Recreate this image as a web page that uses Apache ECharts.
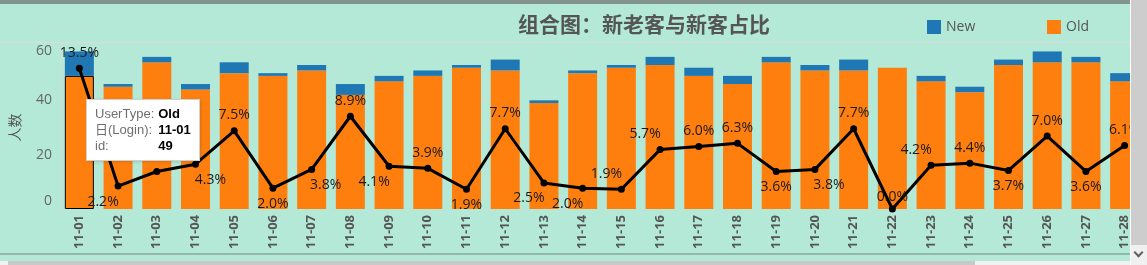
<!DOCTYPE html>
<html><head><meta charset="utf-8">
<script src="https://cdn.jsdelivr.net/npm/echarts@6/dist/echarts.min.js"></script>
<style>
html,body{margin:0;padding:0;width:1147px;height:265px;overflow:hidden;background:#b3e9d6;}
#chart{position:absolute;left:0;top:0;width:1147px;height:265px;}
.deco{position:absolute;}
</style></head><body>
<div id="chart"></div>
<div class="deco" style="left:0;top:0;width:1130px;height:4px;background:#83938d;"></div>
<div class="deco" style="left:0;top:42px;width:1130px;height:1px;background:#d8dcda;"></div>
<div class="deco" style="left:0;top:253px;width:1130px;height:2px;background:#95b9a9;"></div>
<div class="deco" style="left:0;top:261px;width:1130px;height:4px;background:#f0f0f0;"></div>
<div class="deco" style="left:8px;top:261px;width:967px;height:4px;background:#c9c9c9;"></div>
<div class="deco" style="left:1130px;top:0;width:1px;height:265px;background:#ffffff;"></div>
<div class="deco" style="left:1131px;top:0;width:16px;height:245px;background:#cdcdcd;"></div>
<div class="deco" style="left:1131px;top:245px;width:16px;height:20px;background:#f0f0f0;"></div>
<div class="deco" style="left:1135px;top:249px;width:5px;height:5px;border-right:2px solid #606060;border-bottom:2px solid #606060;transform:rotate(45deg);"></div>
<script>
// ---- data ----
const categories = ['11-01','11-02','11-03','11-04','11-05','11-06','11-07','11-08','11-09','11-10',
  '11-11','11-12','11-13','11-14','11-15','11-16','11-17','11-18','11-19','11-20',
  '11-21','11-22','11-23','11-24','11-25','11-26','11-27','11-28'];
const oldUsers = [49,45,54,44,50,49,51,42,47,49,52,51,39,50,52,53,49,46,54,51,51,52,47,43,53,54,54,47];
const newUsers = [9,1,2,2,4,1,2,4,2,2,1,4,1,1,1,3,3,3,2,2,4,0,2,2,2,4,2,3];
const newRatio = [13.5,2.2,3.6,4.3,7.5,2.0,3.8,8.9,4.1,3.9,1.9,7.7,2.5,2.0,1.9,5.7,6.0,6.3,3.6,3.8,7.7,0.0,4.2,4.4,3.7,7.0,3.6,6.1];
const yTicks = [0,20,40,60];
// label placement (style only)
const labelSide = ['top','bottom','top','bottom','top','bottom','bottom','top','bottom','top',
  'bottom','top','bottom','bottom','top','top','top','top','bottom','bottom',
  'top','top','top','top','bottom','top','bottom','top'];
const labelShift = [0,-15,-15,15,0,0,14,0,-15,0,0,0,-15,-15,-15,-15,0,0,0,14,0,0,-15,0,0,0,0,0];
const selectedIndex = 0;

const FONT = '"Open Sans", "Noto Sans CJK SC", sans-serif';
const chart = echarts.init(document.getElementById('chart'), null, {renderer:'canvas'});

const option = {
  animation: false,
  backgroundColor: 'transparent',
  title: {
    text: '组合图：新老客与新客占比',
    left: 513, top: 9,
    textStyle: {fontFamily: '"Noto Sans CJK SC", sans-serif', fontSize: 21, fontWeight: 'bold', color: '#555555'}
  },
  legend: [
    {data: ['New'], left: 927, top: 20, padding: 0, itemWidth: 14, itemHeight: 14, icon: 'rect', itemGap: 5,
     selectedMode: false, textStyle: {fontFamily: FONT, fontSize: 14, color: '#555555', padding: [0,0,0,0]}},
    {data: ['Old'], left: 1047, top: 20, padding: 0, itemWidth: 14, itemHeight: 14, icon: 'rect', itemGap: 5,
     selectedMode: false, textStyle: {fontFamily: FONT, fontSize: 14, color: '#555555'}}
  ],
  tooltip: {
    trigger: 'item', triggerOn: 'none', alwaysShowContent: true, transitionDuration: 0,
    position: [86, 99], padding: [6, 8], backgroundColor: '#ffffff', borderColor: '#d0d0d0', borderWidth: 1,
    extraCssText: 'box-shadow:1px 1px 3px rgba(0,0,0,0.15);border-radius:0;',
    formatter: function (p) {
      const i = p.dataIndex;
      const k = 'color:#6f6f6f;padding:0 4px 0 0;font-weight:normal;';
      const v = 'color:#000;font-weight:bold;padding:0;';
      return '<table style="border-spacing:0;font-family:\'Liberation Sans\',Arial,\'Noto Sans CJK SC\',sans-serif;font-size:13px;line-height:16px;">' +
        '<tr><td style="' + k + '">UserType:</td><td style="' + v + '">' + p.seriesName + '</td></tr>' +
        '<tr><td style="' + k + '">日(Login):</td><td style="' + v + '">' + categories[i] + '</td></tr>' +
        '<tr><td style="' + k + '">id:</td><td style="' + v + '">' + p.value + '</td></tr></table>';
    }
  },
  grid: {left: 56, top: 46, width: 1088, height: 163, containLabel: false},
  xAxis: {
    type: 'category', data: categories,
    axisLine: {show: false},
    axisTick: {show: true, length: 3, lineStyle: {color: '#d2d8d5'}},
    axisLabel: {rotate: 90, margin: 6, interval: 0, fontFamily: FONT, fontSize: 13, fontWeight: 'bold', color: '#555555'}
  },
  yAxis: [
    {
      type: 'value', min: yTicks[0], max: yTicks[yTicks.length - 1], interval: yTicks[1] - yTicks[0],
      name: '人数', nameLocation: 'middle', nameGap: 38, nameRotate: 90,
      nameTextStyle: {fontFamily: '"Noto Sans CJK SC", sans-serif', fontSize: 14, color: '#555555'},
      axisLine: {show: true, lineStyle: {color: '#d5dbd8'}},
      axisTick: {show: false},
      splitLine: {show: false},
      axisLabel: {
        margin: 8, fontFamily: FONT, fontSize: 14, color: '#666666',
        formatter: function (val) {
          if (val === yTicks[0]) return '{lo|' + val + '}';
          if (val === yTicks[yTicks.length - 1]) return '{hi|' + val + '}';
          return String(val);
        },
        rich: {
          lo: {padding: [0, 0, 16, 0], fontFamily: FONT, fontSize: 14, color: '#666666'},
          hi: {padding: [10, 0, 0, 0], fontFamily: FONT, fontSize: 14, color: '#666666'}
        }
      }
    },
    {type: 'value', min: 0, max: 15.64, show: false, splitLine: {show: false}}
  ],
  series: [
    {
      name: 'Old', type: 'bar', stack: 'users', barWidth: 29,
      itemStyle: {color: '#ff7f0e'},
      data: oldUsers.map(function (v, i) {
        return i === selectedIndex ? {value: v, itemStyle: {borderColor: '#000000', borderWidth: 1}} : v;
      })
    },
    {
      name: 'New', type: 'bar', stack: 'users', barWidth: 29,
      itemStyle: {color: '#1f77b4'},
      data: newUsers.slice()
    },
    {
      name: 'ratio', type: 'line', yAxisIndex: 1, z: 5,
      symbol: 'circle', symbolSize: 7,
      lineStyle: {color: '#000000', width: 3},
      itemStyle: {color: '#000000'},
      label: {
        show: true, distance: 5, fontFamily: FONT, fontSize: 14, color: '#1a1a1a',
        formatter: function (p) { return p.value.toFixed(1) + '%'; }
      },
      data: newRatio.map(function (v, i) {
        return {value: v, label: {position: labelSide[i], offset: [labelShift[i], v === 0 ? 4 : 0]}};
      })
    }
  ]
};
chart.setOption(option);
chart.dispatchAction({type: 'showTip', seriesIndex: 0, dataIndex: selectedIndex});
</script>
</body></html>
